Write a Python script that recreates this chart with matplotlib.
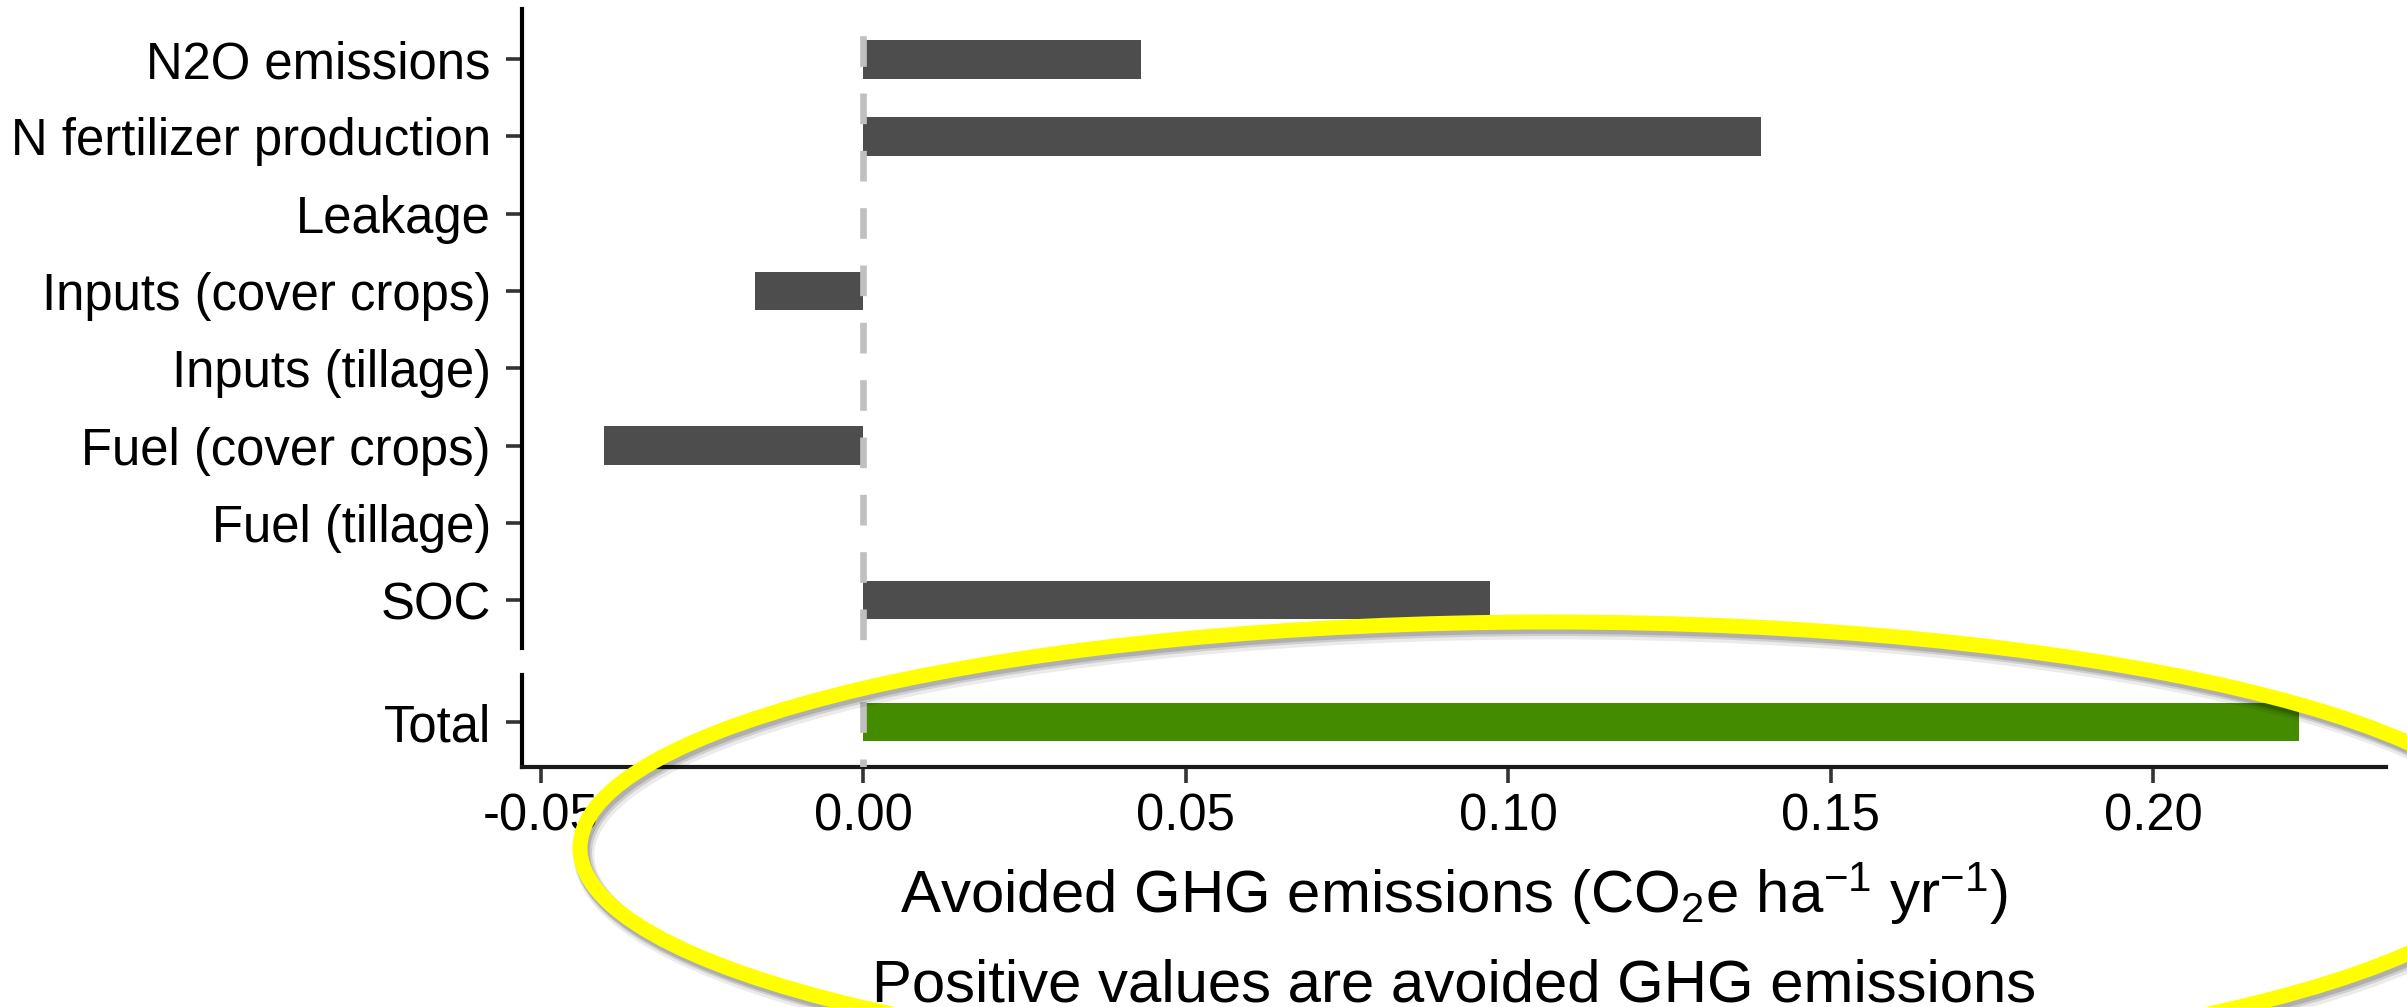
import matplotlib
matplotlib.use("Agg")
import matplotlib.pyplot as plt
from matplotlib.patches import Ellipse

plt.rcParams['font.family'] = ['Liberation Sans', 'DejaVu Sans']
plt.rcParams['mathtext.fontset'] = 'custom'
plt.rcParams['mathtext.rm'] = 'Liberation Sans'
plt.rcParams['mathtext.it'] = 'Liberation Sans:italic'

# ---- data ----
categories = ["N2O emissions", "N fertilizer production", "Leakage",
              "Inputs (cover crops)", "Inputs (tillage)", "Fuel (cover crops)",
              "Fuel (tillage)", "SOC"]
values = [0.0431, 0.1392, 0.0, -0.0167, 0.0, -0.0402, 0.0, 0.0972]
total_label = ["Total"]
total_value = [0.2226]
xticks = [-0.05, 0.00, 0.05, 0.10, 0.15, 0.20]
xtick_labels = ["-0.05", "0.00", "0.05", "0.10", "0.15", "0.20"]
xlabel = r"Avoided GHG emissions (CO$_2$e ha$^{-1}$ yr$^{-1}$)"
caption = "Positive values are avoided GHG emissions"

W_PX, H_PX, DPI = 2407, 1007, 200
fig = plt.figure(figsize=(W_PX / DPI, H_PX / DPI), dpi=DPI)

def px_box(left, top, right, bottom):
    return [left / W_PX, 1 - bottom / H_PX, (right - left) / W_PX, (bottom - top) / H_PX]

ax1 = fig.add_axes(px_box(522, 9, 2386, 648))
ax2 = fig.add_axes(px_box(522, 675, 2386, 767))

XLIM = (-0.0529, 0.2361)
bar_gray = "#4D4D4D"
bar_green = "#458B00"
tick_fs = 18.3
title_fs = 21.6
axis_lw = 1.5
tick_kw = dict(length=5.6, width=1.3, color="#333333", labelsize=tick_fs, labelcolor="black")

# top panel
y1 = list(range(len(categories)))
ax1.barh(y1, values, height=0.5, color=bar_gray, zorder=2)
ax1.set_ylim(len(categories) - 1 + 0.62, -0.65)
ax1.set_xlim(*XLIM)
ax1.set_yticks(y1)
ax1.set_yticklabels(categories)
ax1.set_xticks([])

# bottom panel
y2 = [0]
ax2.barh(y2, total_value, height=0.5, color=bar_green, zorder=2)
ax2.set_ylim(0.58, -0.61)
ax2.set_xlim(*XLIM)
ax2.set_yticks(y2)
ax2.set_yticklabels(total_label)
ax2.set_xticks(xticks)
ax2.set_xticklabels(xtick_labels)

for ax in (ax1, ax2):
    for s in ("top", "right"):
        ax.spines[s].set_visible(False)
    ax.spines["left"].set_linewidth(axis_lw)
    ax.spines["left"].set_color("black")
    ax.spines["bottom"].set_linewidth(axis_lw)
    ax.spines["bottom"].set_color("#1a1a1a")
    ax.tick_params(axis="y", pad=5.6, **tick_kw)
    ax.tick_params(axis="x", pad=3.6, **tick_kw)
    ax.set_facecolor("none")
    # dashed zero line
    lo, hi = ax.get_ylim()
    ax.plot([0, 0], [hi, lo], color="#C0C0C0", lw=2.4,
            linestyle=(4.6, (4.6, 4.0)), zorder=3, solid_capstyle="butt",
            dash_capstyle="butt")
ax1.spines["bottom"].set_visible(False)

# axis title & caption
cx = (522 + 2386) / 2 / W_PX
fig.text(cx, (H_PX - 913) / H_PX, xlabel, ha="center", va="baseline", fontsize=title_fs)
fig.text(cx, (H_PX - 1002) / H_PX, caption, ha="center", va="baseline", fontsize=title_fs)

# yellow highlight ellipse (annotation overlay) with soft shadow
ecx, ecy, ew, eh = 1550, 848, 1940, 452
for dx, dy, lw, a in [(4, 7, 7.5, 0.08), (3, 5, 6.5, 0.12), (2, 4, 5.6, 0.15)]:
    fig.patches.append(Ellipse(((ecx + dx) / W_PX, 1 - (ecy + dy) / H_PX), ew / W_PX, eh / H_PX,
                               transform=fig.transFigure, fill=False,
                               edgecolor="black", alpha=a, lw=lw, zorder=9))
fig.patches.append(Ellipse((ecx / W_PX, 1 - ecy / H_PX), ew / W_PX, eh / H_PX,
                           transform=fig.transFigure, fill=False,
                           edgecolor="#FFFF00", lw=5.4, zorder=10))

fig.savefig("out.png", dpi=DPI, facecolor="white")
